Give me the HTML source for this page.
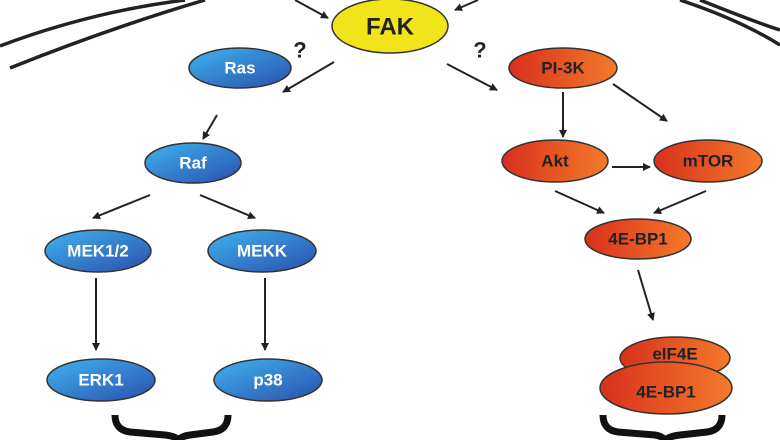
<!DOCTYPE html>
<html><head><meta charset="utf-8"><style>
html,body{margin:0;padding:0;background:#fff;width:780px;height:440px;overflow:hidden}
text{font-family:"Liberation Sans",sans-serif;font-weight:bold;text-anchor:middle;dominant-baseline:central}
</style></head><body>
<svg width="780" height="440" viewBox="0 0 780 440">
<defs>
<linearGradient id="b" x1="0" y1="0" x2="1" y2="1"><stop offset="0" stop-color="#3fb4ee"/><stop offset="1" stop-color="#2a4fae"/></linearGradient>
<linearGradient id="r" x1="0" y1="0" x2="1" y2="0"><stop offset="0" stop-color="#d8301c"/><stop offset="1" stop-color="#f47a2a"/></linearGradient>
<marker id="a" markerWidth="8" markerHeight="8" refX="7" refY="4" orient="auto" markerUnits="userSpaceOnUse"><path d="M0,0 L8,4 L0,8 z" fill="#222"/></marker>
</defs>
<g stroke="#222" stroke-width="3.5" fill="none">
<path d="M0,46 Q90,12 185,0"/><path d="M10,68 Q110,28 205,0"/>
<path d="M680,0 Q740,20 780,45"/><path d="M700,0 Q755,22 780,30"/>
</g>
<g stroke="#222" stroke-width="2" fill="none" marker-end="url(#a)">
<line x1="295" y1="0" x2="328" y2="18"/><line x1="478" y1="0" x2="455" y2="10"/>
<line x1="334" y1="62" x2="283" y2="92"/><line x1="447" y1="64" x2="497" y2="90"/>
<line x1="217" y1="115" x2="203" y2="139"/>
<line x1="563" y1="92" x2="563" y2="137"/><line x1="613" y1="84" x2="667" y2="121"/>
<line x1="612" y1="167" x2="650" y2="167"/>
<line x1="555" y1="191" x2="604" y2="213"/><line x1="706" y1="191" x2="654" y2="213"/>
<line x1="150" y1="195" x2="93" y2="218"/><line x1="200" y1="195" x2="255" y2="218"/>
<line x1="96" y1="278" x2="96" y2="350"/><line x1="265" y1="278" x2="265" y2="350"/>
<line x1="638" y1="270" x2="653" y2="320"/>
</g>
<g stroke="#333" stroke-width="1.5">
<ellipse cx="390" cy="26" rx="58" ry="27" fill="#f2e41a"/>
<ellipse cx="240" cy="68" rx="51" ry="20" fill="url(#b)"/>
<ellipse cx="563" cy="68" rx="54" ry="20" fill="url(#r)"/>
<ellipse cx="193" cy="163" rx="48" ry="20" fill="url(#b)"/>
<ellipse cx="555" cy="161" rx="53" ry="21" fill="url(#r)"/>
<ellipse cx="708" cy="161" rx="54" ry="21" fill="url(#r)"/>
<ellipse cx="638" cy="239" rx="53" ry="20" fill="url(#r)"/>
<ellipse cx="98" cy="251" rx="53" ry="21" fill="url(#b)"/>
<ellipse cx="262" cy="251" rx="54" ry="21" fill="url(#b)"/>
<ellipse cx="101" cy="380" rx="54" ry="21" fill="url(#b)"/>
<ellipse cx="268" cy="380" rx="54" ry="21" fill="url(#b)"/>
<ellipse cx="675" cy="358" rx="55" ry="21" fill="url(#r)"/>
<ellipse cx="666" cy="388" rx="66" ry="26" fill="url(#r)"/>
</g>
<g font-size="20"><text x="390" y="27" fill="#222" font-size="24">FAK</text></g>
<g font-size="17" fill="#fff">
<text x="240" y="68">Ras</text><text x="193" y="163">Raf</text>
<text x="98" y="251">MEK1/2</text><text x="262" y="251">MEKK</text>
<text x="101" y="380">ERK1</text><text x="268" y="380">p38</text>
</g>
<g font-size="17" fill="#222">
<text x="563" y="68">PI-3K</text><text x="555" y="161">Akt</text><text x="708" y="161">mTOR</text>
<text x="638" y="239">4E-BP1</text><text x="675" y="354">eIF4E</text><text x="666" y="392">4E-BP1</text>
</g>
<g font-size="22" fill="#222"><text x="300" y="50">?</text><text x="480" y="50">?</text></g>
<g stroke="#111" stroke-width="7" fill="none">
<path d="M115,415 Q115,430 130,432 L165,435 Q175,436 178,440"/><path d="M228,415 Q228,430 213,432 L190,435 Q182,436 178,440"/>
<path d="M603,415 Q603,430 618,432 L655,435 Q662,436 665,440"/><path d="M722,415 Q722,430 707,432 L680,435 Q670,436 665,440"/>
</g>
</svg>
</body></html>
